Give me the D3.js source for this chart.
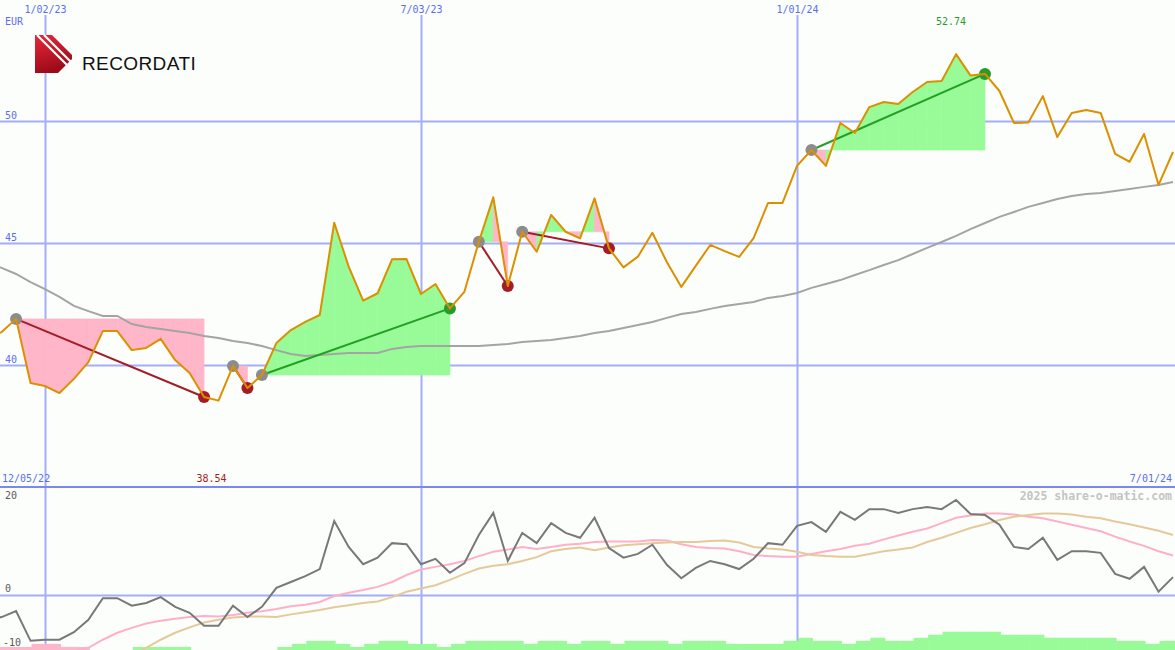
<!DOCTYPE html>
<html>
<head>
<meta charset="utf-8">
<script src="https://cdn.jsdelivr.net/npm/d3@7"></script>
<style>
  body { margin: 0; background: #fcfefc; }
  svg { display: block; }
  text { font-family: "DejaVu Sans Mono", monospace; font-size: 10px; }
</style>
</head>
<body>
<div id="chart"></div>
<script>
const width = 1175,
      height = 650,
      panelSplit = 487;

// weekly closes, EUR (first week 12/05/22)
const startDate = new Date(2022, 11, 5),
      endDate = new Date(2024, 6, 1);

const price = [
  41.10, 41.35, 41.89, 39.26, 39.14, 38.85, 39.43, 40.12, 41.39, 41.39,
  40.61, 40.70, 41.07, 40.20, 39.67, 38.69, 38.54, 39.96, 39.06, 39.59,
  40.90, 41.43, 41.77, 42.05, 45.83, 44.03, 42.64, 42.94, 44.33, 44.34,
  42.91, 43.32, 42.32, 43.00, 45.05, 46.87, 43.24, 45.46, 44.64, 46.15,
  45.46, 45.19, 46.83, 44.78, 44.00, 44.44, 45.42, 44.22, 43.20, 44.06,
  44.92, 44.67, 44.43, 45.20, 46.64, 46.64, 48.16, 48.81, 48.16, 49.92,
  49.51, 50.57, 50.78, 50.70, 51.19, 51.60, 51.64, 52.74, 51.86, 51.93,
  51.23, 49.92, 49.94, 51.02, 49.34, 50.33, 50.45, 50.33, 48.65, 48.33,
  49.47, 47.38, 48.73];

// slow moving average of the close
const movingAvg = [
  44.22, 43.98, 43.73, 43.40, 43.11, 42.79, 42.42, 42.21, 42.01, 42.01,
  41.68, 41.56, 41.48, 41.39, 41.31, 41.19, 41.11, 40.98, 40.90, 40.78,
  40.61, 40.45, 40.37, 40.41, 40.45, 40.49, 40.49, 40.49, 40.66, 40.74,
  40.78, 40.78, 40.78, 40.78, 40.78, 40.82, 40.86, 40.94, 40.98, 41.02,
  41.11, 41.19, 41.31, 41.39, 41.52, 41.64, 41.76, 41.93, 42.09, 42.17,
  42.30, 42.42, 42.50, 42.58, 42.75, 42.83, 42.95, 43.16, 43.32, 43.48,
  43.69, 43.89, 44.10, 44.30, 44.55, 44.80, 45.04, 45.29, 45.57, 45.82,
  46.07, 46.27, 46.48, 46.64, 46.80, 46.93, 47.01, 47.05, 47.13, 47.21,
  47.30, 47.38, 47.50];

// entry / exit week indexes of the signals
const signalStart = [2, 17, 19, 34, 37, 57],
      signalEnd = [15, 18, 32, 36, 43, 69];

// lower panel: oscillator and its two averages
const oscillator = [
  -4.6, -4.1, -3.0, -8.5, -8.3, -8.3, -6.9, -4.6, -0.6, -0.6,
  -2.0, -1.5, -0.4, -2.2, -3.3, -5.7, -5.7, -2.0, -4.1, -2.2,
  1.3, 2.4, 3.5, 4.8, 13.7, 8.9, 5.7, 6.9, 9.6, 9.4,
  5.7, 6.7, 4.1, 5.9, 11.1, 15.2, 6.3, 11.5, 9.6, 13.3,
  11.5, 10.6, 14.3, 8.7, 6.9, 7.6, 9.3, 5.6, 3.1, 5.0,
  6.3, 5.7, 4.8, 6.7, 9.6, 9.3, 12.8, 13.5, 11.7, 15.4,
  13.9, 15.9, 15.9, 15.2, 15.9, 16.3, 15.9, 17.6, 15.0, 14.8,
  13.0, 8.9, 8.5, 10.6, 6.5, 8.1, 8.1, 7.8, 3.9, 3.0,
  5.2, 0.6, 3.3];

const oscFast = [
  -13.4, -13.0, -12.5, -12.0, -11.5, -10.9, -10.4, -9.8, -8.3, -7.0,
  -6.1, -5.3, -4.8, -4.4, -4.1, -3.9, -4.0, -3.7, -3.3, -3.0,
  -2.6, -2.1, -1.8, -1.3, -0.2, 0.4, 0.9, 1.5, 2.4, 3.7,
  4.7, 5.2, 5.7, 6.3, 7.2, 8.0, 8.4, 8.9, 8.5, 8.9,
  9.3, 9.5, 9.8, 9.9, 9.9, 9.9, 10.2, 10.1, 9.4, 8.9,
  8.7, 8.6, 8.1, 7.4, 7.2, 7.1, 7.1, 7.6, 8.1, 8.5,
  9.1, 9.5, 10.3, 11.0, 11.7, 12.3, 13.3, 14.3, 14.7, 15.1,
  15.1, 14.9, 14.5, 14.2, 13.6, 13.0, 12.4, 11.8, 10.8, 9.9,
  9.1, 8.1, 7.3];

const oscSlow = [
  -20.4, -19.4, -18.5, -17.6, -16.9, -16.0, -15.2, -14.4, -13.5, -12.6,
  -11.3, -9.8, -8.3, -7.0, -6.0, -5.1, -4.6, -4.2, -4.0, -4.0,
  -4.1, -3.6, -3.2, -2.8, -2.3, -1.9, -1.5, -1.2, -0.4, 0.6,
  1.2, 1.8, 2.8, 3.9, 4.9, 5.4, 5.7, 6.3, 7.0, 8.1,
  8.5, 8.8, 8.3, 8.8, 9.2, 9.4, 9.6, 9.7, 9.8, 9.8,
  10.0, 10.1, 9.7, 8.9, 8.6, 8.4, 8.0, 7.4, 7.2, 7.1,
  7.1, 7.6, 8.1, 8.4, 8.8, 9.8, 10.6, 11.5, 12.4, 13.1,
  13.9, 14.5, 14.8, 15.1, 15.1, 14.9, 14.5, 14.2, 13.6, 13.1,
  12.5, 11.9, 11.1];

// histogram steps (negative = pink)
const histo = [
  -1, -1, -1, -2, -2, -1, -1, 0, 0, 0,
  1, 1, 1, 1, 0, 0, 0, 0, 0, 0,
  1, 2, 3, 3, 2, 1, 2, 3, 3, 2,
  2, 1, 2, 3, 3, 3, 3, 2, 3, 3,
  2, 3, 3, 2, 3, 3, 3, 2, 3, 3,
  3, 2, 2, 2, 2, 3, 4, 3, 3, 2,
  3, 4, 3, 3, 4, 5, 6, 6, 6, 6,
  5, 5, 5, 4, 4, 4, 4, 4, 3, 3,
  2, 3, 3];

const priceTicks = [40, 45, 50],
      lowerTicks = [20, 0, -10],
      dateTicks = [new Date(2023, 0, 2), new Date(2023, 6, 3), new Date(2024, 0, 1)];

const dates = price.map((d, i) => d3.timeDay.offset(startDate, 7 * i));
const fmt = d3.timeFormat("%-m/%d/%y");

const blue = "#5b6ef0", grid = "#a3aef4", green = "#2a9a2a", red = "#a31c26",
      fillGreen = "#98fb98", fillPink = "#ffb6c8";

let x = d3.scaleTime().domain([startDate, endDate]).range([-12.85, 1173]),
    y = d3.scaleLinear().domain([35, 55]).range([panelSplit, -1]),
    yl = d3.scaleLinear().domain([-10.2, 20]).range([height, panelSplit]),
    yb = d3.scaleLinear().domain([0, 6]).range([height, height - 18.3]);

const svg = d3.select("#chart")
  .append("svg")
  .attr("width", width)
  .attr("height", height);

const defs = svg.append("defs");
defs.append("clipPath").attr("id", "clipTop")
  .append("rect").attr("x", 0).attr("y", 0).attr("width", width).attr("height", panelSplit);
defs.append("clipPath").attr("id", "clipBottom")
  .append("rect").attr("x", 0).attr("y", panelSplit).attr("width", width).attr("height", height - panelSplit);

svg.append("rect").attr("width", width).attr("height", height).attr("fill", "#fcfefc");

// grid: horizontal price lines
svg.append("g")
  .attr("class", "y axis")
  .call(d3.axisRight(y).tickValues(priceTicks).tickSize(width).tickFormat(d3.format("d")))
  .call(g => g.select(".domain").remove())
  .call(g => g.selectAll(".tick line").attr("stroke", grid).attr("stroke-width", 2))
  .call(g => g.selectAll(".tick text")
      .attr("x", 5).attr("y", -3).attr("dy", 0)
      .attr("text-anchor", "start")
      .attr("fill", blue)
      .style("font-size", "10px").style("font-family", "DejaVu Sans Mono"));

// grid: lower panel zero line
svg.append("g")
  .attr("class", "yl axis")
  .call(d3.axisRight(yl).tickValues([0]).tickSize(width).tickFormat(""))
  .call(g => g.select(".domain").remove())
  .call(g => g.selectAll(".tick line").attr("stroke", grid).attr("stroke-width", 2));

// grid: vertical date lines with labels on top
svg.append("g")
  .attr("class", "x axis")
  .attr("transform", "translate(0,15)")
  .call(d3.axisTop(x).tickValues(dateTicks).tickSize(-(height - 15)).tickPadding(2).tickFormat(fmt))
  .call(g => g.select(".domain").remove())
  .call(g => g.selectAll(".tick line").attr("stroke", grid).attr("stroke-width", 2))
  .call(g => g.selectAll(".tick text").attr("fill", blue)
      .style("font-size", "10px").style("font-family", "DejaVu Sans Mono"));

// panel separator
svg.append("line")
  .attr("x1", 0).attr("x2", width)
  .attr("y1", yl(20)).attr("y2", yl(20))
  .attr("stroke", "#7a88f0").attr("stroke-width", 2);

// ---- price panel ----
const priceG = svg.append("g").attr("clip-path", "url(#clipTop)");

// shaded areas between entry level and price, one piece per week
signalStart.forEach(function(s, t) {
  const level = price[s];
  const area = d3.area()
    .x(i => x(dates[i]))
    .y0(y(level))
    .y1(i => y(price[i]));
  for (let k = s; k < signalEnd[t]; k++) {
    const c = price[k + 1] >= level ? fillGreen : fillPink;
    priceG.append("path")
      .datum([k, k + 1])
      .attr("d", area)
      .attr("fill", c)
      .attr("stroke", c)
      .attr("stroke-width", 0.6);
  }
});

const line = d3.line().x((d, i) => x(dates[i])).y(d => y(d));

priceG.append("path")
  .datum(movingAvg)
  .attr("d", line)
  .attr("fill", "none")
  .attr("stroke", "#a4a4a4")
  .attr("stroke-width", 2);

// signal lines
signalStart.forEach(function(s, t) {
  const e = signalEnd[t];
  priceG.append("line")
    .attr("x1", x(dates[s])).attr("y1", y(price[s]))
    .attr("x2", x(dates[e])).attr("y2", y(price[e]))
    .attr("stroke", price[e] > price[s] ? "#23a023" : red)
    .attr("stroke-width", 2);
});

// entry (gray) and exit dots
priceG.selectAll(".entry")
  .data(signalStart)
  .enter()
  .append("circle")
  .attr("class", "entry")
  .attr("r", 6)
  .attr("cx", i => x(dates[i]))
  .attr("cy", i => y(price[i]))
  .attr("fill", "#8c8c8c");

priceG.selectAll(".exit")
  .data(signalEnd)
  .enter()
  .append("circle")
  .attr("class", "exit")
  .attr("r", 6)
  .attr("cx", i => x(dates[i]))
  .attr("cy", i => y(price[i]))
  .attr("fill", (d, t) => price[d] > price[signalStart[t]] ? green : red);

priceG.append("path")
  .datum(price)
  .attr("d", line)
  .attr("fill", "none")
  .attr("stroke", "#dc9000")
  .attr("stroke-width", 2)
  .attr("stroke-linejoin", "round");

// ---- lower panel ----
const lowerG = svg.append("g").attr("clip-path", "url(#clipBottom)");
const step = x(dates[1]) - x(dates[0]);

lowerG.selectAll(".bar")
  .data(histo.map((v, i) => ({v: v, i: i})).filter(d => d.v !== 0))
  .enter()
  .append("rect")
  .attr("class", "bar")
  .attr("x", d => x(dates[d.i]) + 1)
  .attr("width", step + 0.5)
  .attr("y", d => yb(Math.abs(d.v)))
  .attr("height", d => height - yb(Math.abs(d.v)))
  .attr("fill", d => d.v > 0 ? fillGreen : fillPink);

const lline = d3.line().x((d, i) => x(dates[i])).y(d => yl(d));

[[oscFast, "#ffb0c8"], [oscSlow, "#e6c99a"], [oscillator, "#787878"]].forEach(function(s) {
  lowerG.append("path")
    .datum(s[0])
    .attr("d", lline)
    .attr("fill", "none")
    .attr("stroke", s[1])
    .attr("stroke-width", 2);
});

// lower panel tick labels (kept inside the panel)
svg.selectAll(".ltick")
  .data(lowerTicks)
  .enter()
  .append("text")
  .attr("class", "ltick")
  .attr("x", d => d < 0 ? 3 : 5)
  .attr("y", d => Math.max(yl(d) - 3, panelSplit + 12))
  .attr("fill", "#5a5a5a")
  .text(d => d);

// ---- labels ----
svg.append("text").attr("x", 5).attr("y", 25).attr("fill", blue).text("EUR");

const iMax = d3.maxIndex(price), iMin = d3.minIndex(price);
svg.append("text")
  .attr("x", x(dates[iMax]) - 5).attr("y", 25)
  .attr("text-anchor", "middle")
  .attr("fill", green)
  .text(price[iMax].toFixed(2));
svg.append("text")
  .attr("x", x(dates[iMin]) - 7).attr("y", 482)
  .attr("text-anchor", "middle")
  .attr("fill", red)
  .text(price[iMin].toFixed(2));

svg.append("text").attr("x", 2).attr("y", 482).attr("fill", blue).text(fmt(dates[0]));
svg.append("text").attr("x", 1172).attr("y", 482).attr("text-anchor", "end")
  .attr("fill", blue).text(fmt(dates[dates.length - 1]));

svg.append("text")
  .attr("x", 1172).attr("y", 500)
  .attr("text-anchor", "end")
  .attr("fill", "#c4c4c4")
  .style("font-size", "11.5px")
  .style("font-weight", "bold")
  .text("2025 share-o-matic.com");

// logo
const grad = defs.append("linearGradient").attr("id", "logoRed")
  .attr("x1", 0).attr("y1", 0).attr("x2", 0.3).attr("y2", 1);
grad.append("stop").attr("offset", "0%").attr("stop-color", "#e8283a");
grad.append("stop").attr("offset", "100%").attr("stop-color", "#9c0a18");

const logo = svg.append("g").attr("class", "logo");
logo.append("path")
  .attr("d", "M35,35 L52,35 L72,55 L72,59 L58,73 L35,73 Z")
  .attr("fill", "url(#logoRed)");
logo.append("path")
  .attr("d", "M37,35 L70,68 M44,35 L72,63")
  .attr("stroke", "#fcfefc")
  .attr("stroke-width", 2.2);
logo.append("text")
  .attr("x", 82).attr("y", 70)
  .style("font-family", "Liberation Sans, Arial, sans-serif")
  .style("font-size", "19px")
  .style("letter-spacing", "0.4px")
  .attr("fill", "#111")
  .text("RECORDATI");
</script>
</body>
</html>
